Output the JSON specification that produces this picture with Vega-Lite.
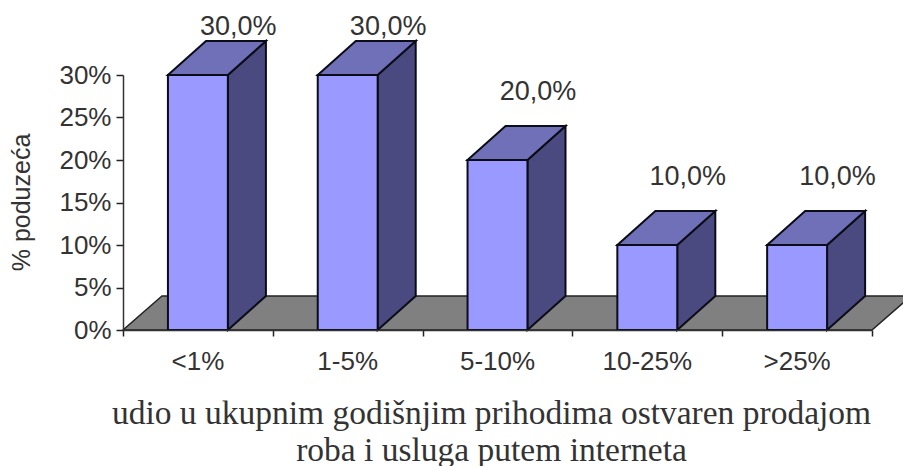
{
  "$schema": "https://vega.github.io/schema/vega-lite/v6.json",
  "width": 749,
  "height": 255,
  "autosize": "none",
  "padding": {"left": 123, "top": 75, "right": 31, "bottom": 136},
  "background": "#ffffff",
  "config": {
    "view": {"stroke": null},
    "axis": {"grid": false},
    "text": {"font": "Liberation Sans"}
  },
  "datasets": {
    "shares": [
      {"band": "<1%", "share": 30},
      {"band": "1-5%", "share": 30},
      {"band": "5-10%", "share": 20},
      {"band": "10-25%", "share": 10},
      {"band": ">25%", "share": 10}
    ],
    "floor": [{"back": 0}, {"back": 1}]
  },
  "encoding": {
    "y": {
      "type": "quantitative",
      "stack": null,
      "scale": {"domain": [0, 30], "nice": false},
      "axis": {
        "zindex": 1,
        "values": [0, 5, 10, 15, 20, 25, 30],
        "labelExpr": "datum.value + '%'",
        "domainColor": "#333333",
        "domainWidth": 1.5,
        "tickColor": "#222222",
        "tickWidth": 1.5,
        "tickSize": 7,
        "labelFont": "Liberation Sans",
        "labelFontSize": 26,
        "labelColor": "#333333",
        "labelPadding": 5,
        "title": "% poduzeća",
        "titleFont": "Liberation Sans",
        "titleFontSize": 25,
        "titleFontWeight": "normal",
        "titleColor": "#333333",
        "titleX": -89,
        "titleY": 127
      }
    }
  },
  "resolve": {"scale": {"x": "independent"}},
  "layer": [
    {
      "data": {"name": "floor"},
      "transform": [
        {"calculate": "datum.back * 0.26", "as": "xa"},
        {"calculate": "5 + datum.back * 0.26", "as": "xb"},
        {"calculate": "datum.back * 4", "as": "ya"}
      ],
      "mark": {"type": "area", "orient": "horizontal", "color": "#808080", "stroke": "#222222", "strokeWidth": 1.5},
      "encoding": {
        "y": {"field": "ya"},
        "x": {
          "field": "xa",
          "type": "quantitative",
          "scale": {"domain": [0, 5], "nice": false, "zero": false},
          "axis": {
            "orient": "bottom",
            "zindex": 1,
            "values": [0, 1, 2, 3, 4, 5],
            "labels": false,
            "title": null,
            "domainColor": "#333333",
            "domainWidth": 1.5,
            "tickColor": "#222222",
            "tickWidth": 1.5,
            "tickSize": 6
          }
        },
        "x2": {"field": "xb"}
      }
    },
    {
      "data": {"name": "shares"},
      "transform": [
        {"window": [{"op": "row_number", "as": "n"}]},
        {"calculate": "[0, 1]", "as": "back"},
        {"flatten": ["back"]},
        {"calculate": "datum.n - 0.3 + datum.back * 0.254", "as": "xs"},
        {"calculate": "datum.back * 4", "as": "y0"},
        {"calculate": "datum.share + datum.back * 4", "as": "y1"}
      ],
      "mark": {"type": "area", "orient": "vertical", "color": "#4a4a80", "stroke": "#0c0c18", "strokeWidth": 2},
      "encoding": {
        "detail": {"field": "band"},
        "x": {"field": "xs", "type": "quantitative", "scale": {"domain": [0, 5], "nice": false, "zero": false}, "axis": null},
        "y": {"field": "y0"},
        "y2": {"field": "y1"}
      }
    },
    {
      "data": {"name": "shares"},
      "transform": [
        {"window": [{"op": "row_number", "as": "n"}]},
        {"calculate": "[0, 1]", "as": "back"},
        {"flatten": ["back"]},
        {"calculate": "datum.n - 0.7 + datum.back * 0.254", "as": "xa"},
        {"calculate": "datum.n - 0.3 + datum.back * 0.254", "as": "xb"},
        {"calculate": "datum.share + datum.back * 4", "as": "ya"}
      ],
      "mark": {"type": "area", "orient": "horizontal", "color": "#7070b8", "stroke": "#0c0c18", "strokeWidth": 2},
      "encoding": {
        "detail": {"field": "band"},
        "y": {"field": "ya"},
        "x": {"field": "xa", "type": "quantitative", "scale": {"domain": [0, 5], "nice": false, "zero": false}, "axis": null},
        "x2": {"field": "xb"}
      }
    },
    {
      "data": {"name": "shares"},
      "mark": {"type": "bar", "color": "#9999ff", "stroke": "#0c0c18", "strokeWidth": 2},
      "encoding": {
        "x": {
          "field": "band",
          "type": "nominal",
          "sort": null,
          "scale": {"paddingInner": 0.6, "paddingOuter": 0.3},
          "axis": {
            "orient": "bottom",
            "labelAngle": 0,
            "ticks": false,
            "domain": false,
            "labelFont": "Liberation Sans",
            "labelFontSize": 26,
            "labelColor": "#333333",
            "labelPadding": 18,
            "title": ["udio u ukupnim godišnjim prihodima ostvaren prodajom", "roba i usluga putem interneta"],
            "titleFont": "Liberation Serif",
            "titleFontSize": 33.5,
            "titleFontWeight": "normal",
            "titleColor": "#333333",
            "titleLineHeight": 37,
            "titleX": 368,
            "titleY": 93,
            "titleBaseline": "alphabetic"
          }
        },
        "y": {"field": "share"}
      }
    },
    {
      "data": {"name": "shares"},
      "transform": [
        {"window": [{"op": "row_number", "as": "n"}]},
        {"calculate": "datum.n - 0.23", "as": "xl"},
        {"calculate": "min(datum.share + 8, 35.6)", "as": "yl"},
        {"calculate": "format(datum.share, '.1f') + '%'", "as": "tag"},
        {"calculate": "replace(datum.tag, '.', ',')", "as": "tag"}
      ],
      "mark": {"type": "text", "fontSize": 27, "color": "#333333", "font": "Liberation Sans", "align": "center", "baseline": "middle"},
      "encoding": {
        "x": {"field": "xl", "type": "quantitative", "scale": {"domain": [0, 5], "nice": false, "zero": false}, "axis": null},
        "y": {"field": "yl"},
        "text": {"field": "tag"}
      }
    }
  ]
}
